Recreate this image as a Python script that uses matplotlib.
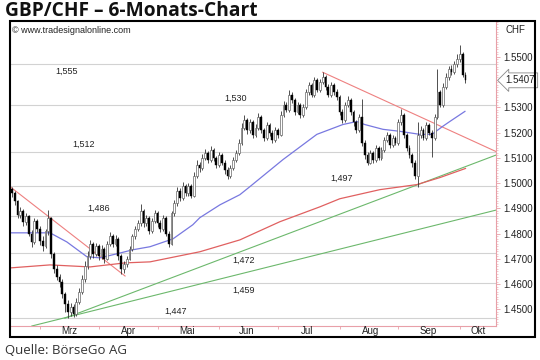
import matplotlib
matplotlib.use("Agg")
import matplotlib.pyplot as plt
from matplotlib.patches import Rectangle

plt.rcParams['font.family'] = ['Liberation Sans', 'DejaVu Sans']

# Tageskerzen GBP/CHF (Schlusskurse, Hochs, Tiefs)
first_open = 1.4975
closes = [
    1.4960, 1.4930, 1.4875, 1.4890, 1.4845, 1.4870, 1.4800, 1.4765, 1.4850, 1.4820,
    1.4770, 1.4750, 1.4810, 1.4860, 1.4720, 1.4660, 1.4630, 1.4610, 1.4560, 1.4520,
    1.4490, 1.4510, 1.4480, 1.4530, 1.4570, 1.4620, 1.4670, 1.4710, 1.4760, 1.4720,
    1.4750, 1.4710, 1.4740, 1.4700, 1.4760, 1.4790, 1.4760, 1.4780, 1.4710, 1.4660,
    1.4680, 1.4700, 1.4740, 1.4790, 1.4820, 1.4840, 1.4890, 1.4840, 1.4860, 1.4810,
    1.4850, 1.4880, 1.4840, 1.4820, 1.4860, 1.4800, 1.4760, 1.4880, 1.4920, 1.4970,
    1.4940, 1.4990, 1.4960, 1.4990, 1.4950, 1.5030, 1.5070, 1.5060, 1.5100, 1.5120,
    1.5090, 1.5130, 1.5100, 1.5070, 1.5110, 1.5080, 1.5050, 1.5030, 1.5060, 1.5090,
    1.5120, 1.5160, 1.5220, 1.5250, 1.5210, 1.5240, 1.5190, 1.5220, 1.5260, 1.5210,
    1.5180, 1.5230, 1.5200, 1.5170, 1.5210, 1.5190, 1.5270, 1.5310, 1.5290, 1.5350,
    1.5330, 1.5280, 1.5310, 1.5270, 1.5300, 1.5360, 1.5390, 1.5350, 1.5410, 1.5370,
    1.5400, 1.5420, 1.5380, 1.5350, 1.5390, 1.5360, 1.5340, 1.5280, 1.5250, 1.5310,
    1.5330, 1.5280, 1.5240, 1.5210, 1.5260, 1.5160, 1.5110, 1.5080, 1.5120, 1.5090,
    1.5140, 1.5100, 1.5130, 1.5170, 1.5190, 1.5150, 1.5180, 1.5160, 1.5240, 1.5270,
    1.5190, 1.5140, 1.5110, 1.5080, 1.5030, 1.5190, 1.5210, 1.5180, 1.5230, 1.5200,
    1.5180, 1.5260, 1.5360, 1.5310, 1.5380, 1.5420, 1.5450, 1.5440, 1.5470, 1.5490,
    1.5510, 1.5430, 1.5407,
]
highs = [
    1.4985, 1.4968, 1.4935, 1.4905, 1.4898, 1.4882, 1.4875, 1.4815, 1.4862, 1.4858,
    1.4830, 1.4790, 1.4820, 1.4893, 1.4865, 1.4728, 1.4675, 1.4640, 1.4622, 1.4570,
    1.4535, 1.4525, 1.4520, 1.4545, 1.4585, 1.4635, 1.4690, 1.4730, 1.4775, 1.4768,
    1.4762, 1.4758, 1.4755, 1.4748, 1.4772, 1.4805, 1.4798, 1.4795, 1.4785, 1.4718,
    1.4692, 1.4712, 1.4752, 1.4800, 1.4832, 1.4855, 1.4918, 1.4898, 1.4875, 1.4868,
    1.4862, 1.4895, 1.4888, 1.4852, 1.4872, 1.4868, 1.4812, 1.4890, 1.4935, 1.4985,
    1.4980, 1.5005, 1.4998, 1.5002, 1.4998, 1.5045, 1.5090, 1.5082, 1.5115, 1.5135,
    1.5128, 1.5145, 1.5138, 1.5108, 1.5122, 1.5118, 1.5090, 1.5062, 1.5072, 1.5102,
    1.5132, 1.5175, 1.5238, 1.5268, 1.5258, 1.5255, 1.5248, 1.5235, 1.5278, 1.5268,
    1.5220, 1.5242, 1.5238, 1.5210, 1.5222, 1.5218, 1.5285, 1.5325, 1.5320, 1.5368,
    1.5360, 1.5338, 1.5322, 1.5318, 1.5312, 1.5372, 1.5402, 1.5398, 1.5422, 1.5418,
    1.5412, 1.5439, 1.5428, 1.5392, 1.5402, 1.5398, 1.5372, 1.5348, 1.5292, 1.5322,
    1.5345, 1.5338, 1.5290, 1.5250, 1.5272, 1.5335, 1.5170, 1.5122, 1.5132, 1.5128,
    1.5152, 1.5148, 1.5142, 1.5182, 1.5202, 1.5198, 1.5192, 1.5188, 1.5252, 1.5295,
    1.5278, 1.5198, 1.5150, 1.5118, 1.5090, 1.5240, 1.5225, 1.5220, 1.5242, 1.5238,
    1.5212, 1.5272, 1.5450, 1.5370, 1.5395, 1.5435, 1.5465, 1.5468, 1.5485, 1.5510,
    1.5545, 1.5520, 1.5440,
]
lows = [
    1.4945, 1.4915, 1.4860, 1.4862, 1.4830, 1.4835, 1.4790, 1.4745, 1.4760, 1.4805,
    1.4755, 1.4730, 1.4742, 1.4795, 1.4705, 1.4645, 1.4615, 1.4590, 1.4545, 1.4490,
    1.4465, 1.4472, 1.4468, 1.4475, 1.4520, 1.4560, 1.4610, 1.4660, 1.4700, 1.4705,
    1.4712, 1.4695, 1.4700, 1.4685, 1.4695, 1.4750, 1.4748, 1.4752, 1.4695, 1.4638,
    1.4645, 1.4668, 1.4695, 1.4732, 1.4780, 1.4810, 1.4832, 1.4825, 1.4830, 1.4798,
    1.4802, 1.4840, 1.4828, 1.4808, 1.4812, 1.4790, 1.4748, 1.4755, 1.4870, 1.4910,
    1.4928, 1.4932, 1.4948, 1.4950, 1.4940, 1.4945, 1.5020, 1.5045, 1.5050, 1.5090,
    1.5078, 1.5082, 1.5088, 1.5058, 1.5062, 1.5070, 1.5038, 1.5018, 1.5022, 1.5052,
    1.5082, 1.5110, 1.5150, 1.5210, 1.5195, 1.5200, 1.5178, 1.5182, 1.5212, 1.5198,
    1.5168, 1.5172, 1.5188, 1.5160, 1.5162, 1.5180, 1.5185, 1.5262, 1.5280, 1.5282,
    1.5318, 1.5268, 1.5272, 1.5258, 1.5262, 1.5292, 1.5350, 1.5340, 1.5342, 1.5360,
    1.5362, 1.5392, 1.5368, 1.5340, 1.5342, 1.5350, 1.5330, 1.5268, 1.5238, 1.5242,
    1.5302, 1.5268, 1.5228, 1.5198, 1.5202, 1.5148, 1.5095, 1.5072, 1.5075, 1.5080,
    1.5085, 1.5090, 1.5092, 1.5122, 1.5162, 1.5140, 1.5142, 1.5150, 1.5152, 1.5232,
    1.5178, 1.5128, 1.5098, 1.5062, 1.5015, 1.4985, 1.5178, 1.5170, 1.5172, 1.5190,
    1.5105, 1.5172, 1.5255, 1.5300, 1.5302, 1.5372, 1.5410, 1.5430, 1.5432, 1.5460,
    1.5480, 1.5420, 1.5398,
]
assert len(closes) == len(highs) == len(lows)
opens = [first_open] + closes[:-1]
last_price = closes[-1]

# gleitende Durchschnitte
ma_short_x = [-0.7, 7.5, 13.6, 19.6, 26.8, 31.4, 37.5, 43.2, 49.3, 57.5, 64.6, 67.1, 74.3,
              81.4, 85.0, 96.8, 108.9, 118.2, 123.2, 126.0, 132.5, 138.6, 145.7, 150.0,
              153.9, 156.4, 161.8]
ma_short = [1.4803, 1.4803, 1.4803, 1.4767, 1.4708, 1.4704, 1.4720, 1.4736, 1.4748, 1.4779,
            1.4835, 1.4863, 1.4914, 1.4954, 1.4986, 1.5093, 1.5193, 1.5232, 1.5244, 1.5232,
            1.5213, 1.5205, 1.5193, 1.5193, 1.5225, 1.5244, 1.5284]
ma_long_x = [-0.7, 13.6, 27.9, 40.4, 49.3, 67.1, 81.4, 95.7, 110.0, 117.1, 131.4, 144.6,
             152.9, 162.0]
ma_long = [1.4664, 1.4676, 1.4668, 1.4684, 1.4688, 1.4728, 1.4775, 1.4847, 1.4906, 1.4938,
           1.4974, 1.4994, 1.5022, 1.5058]

# Trendlinien (Start- und Endpunkt: Bar, Kurs)
red_lines = [((-0.7, 1.4986), (40.4, 1.4632)), ((111.0, 1.5439), (172.9, 1.5125))]
green_lines = [((18.9, 1.4465), (172.9, 1.5111)), ((7.1, 1.4434), (172.9, 1.4893))]

# Marken im Chart
level_pos = [1.5471, 1.5308, 1.5125, 1.4990, 1.4871, 1.4724, 1.4604, 1.4465]
level_text = ["1,555", "1,530", "1,512", "1,497", "1,486", "1,472", "1,459", "1,447"]
level_text_x = [15.4, 76.0, 21.4, 113.6, 27.0, 78.6, 78.6, 54.6]
level_text_above = [False, True, True, True, True, False, False, True]

month_starts = [10, 31, 52, 74, 95, 117, 138, 160]
month_names = ["Mrz", "Apr", "Mai", "Jun", "Jul", "Aug", "Sep", "Okt"]
month_label_x = [20.5, 41.5, 62.5, 84.0, 105.5, 128.0, 148.5, 166.5]

y_ticks = [1.45, 1.46, 1.47, 1.48, 1.49, 1.50, 1.51, 1.52, 1.53, 1.55]

pink = '#e8a0a8'

fig = plt.figure(figsize=(5.4, 3.6), dpi=100)
ax = fig.add_axes([10 / 540, 1 - 326 / 360, 486 / 540, 305 / 360])
ax.set_xlim(-0.7, 172.9)
ax.set_ylim(1.4434, 1.5642)

for y in level_pos:
    ax.axhline(y, color='#d2d2d2', lw=0.8, zorder=1)
for y, t, x, above in zip(level_pos, level_text, level_text_x, level_text_above):
    ax.annotate(t, (x, y), xytext=(0, 2 if above else -2), textcoords='offset points',
                ha='left', va='bottom' if above else 'top', fontsize=6.5, color='#222')

for (x0, y0), (x1, y1) in red_lines:
    ax.plot([x0, x1], [y0, y1], color='#ee8080', lw=0.8, zorder=2)
for (x0, y0), (x1, y1) in green_lines:
    ax.plot([x0, x1], [y0, y1], color='#6cb86c', lw=0.8, zorder=2)
ax.plot(ma_long_x, ma_long, color='#e06060', lw=0.9, zorder=2)
ax.plot(ma_short_x, ma_short, color='#7878e0', lw=0.9, zorder=2)

# Kerzen
xs = list(range(len(closes)))
ax.vlines(xs, lows, highs, color='#333333', lw=0.6, zorder=3)
for x, o, c in zip(xs, opens, closes):
    h = max(abs(c - o), 0.0003)
    if c >= o:
        ax.bar(x, h, bottom=min(o, c), width=0.65, color='white', edgecolor='#666666',
               lw=0.5, zorder=4)
    else:
        ax.bar(x, h, bottom=min(o, c), width=0.65, color='black', edgecolor='black',
               lw=0.3, zorder=4)

# Achsen
for s in ['top', 'left']:
    ax.spines[s].set_visible(False)
ax.spines['right'].set_color(pink)
ax.spines['bottom'].set_color(pink)
ax.yaxis.tick_right()
ax.set_yticks(y_ticks)
ax.set_yticklabels([f"{v:.4f}" for v in y_ticks])
ax.set_yticks([1.444 + 0.001 * k for k in range(121)], minor=True)
ax.tick_params(axis='y', which='major', colors=pink, labelcolor='#222', length=3,
               width=0.6, labelsize=7, pad=2)
ax.tick_params(axis='y', which='minor', colors=pink, length=1.5, width=0.4)
ax.set_xticks(month_starts)
ax.set_xticklabels([])
ax.tick_params(axis='x', colors=pink, length=2.5, width=0.6)
for x, m in zip(month_label_x, month_names):
    ax.text(x, -0.017, m, transform=ax.get_xaxis_transform(), ha='center', va='center',
            fontsize=7, color='#222')

ax.annotate(f"{last_price:.4f}", (1.0, last_price), xycoords=('axes fraction', 'data'),
            xytext=(7, 0), textcoords='offset points', ha='left', va='center',
            fontsize=7, color='#222',
            bbox=dict(boxstyle='larrow,pad=0.25', fc='white', ec='#888888', lw=0.6))
ax.text(1.02, 0.97, "CHF", transform=ax.transAxes, fontsize=7, color='#222', va='center')
ax.text(0.004, 0.985, "© www.tradesignalonline.com", transform=ax.transAxes,
        fontsize=6.5, color='#222', va='top')

fig.patches.append(Rectangle((10 / 540, 1 - 337 / 360), 525 / 540, 316 / 360,
                             transform=fig.transFigure, fill=False, ec='black', lw=1.5))

fig.text(5 / 540, 1 - 11 / 360, "GBP/CHF – 6-Monats-Chart", fontsize=13.8,
         fontweight='bold', family='Open Sans', va='center', color='#111')
fig.text(5 / 540, 1 - 350 / 360, "Quelle: BörseGo AG", fontsize=9.5,
         family='Open Sans', va='center', color='#333')

plt.savefig('out.png', dpi=100)
